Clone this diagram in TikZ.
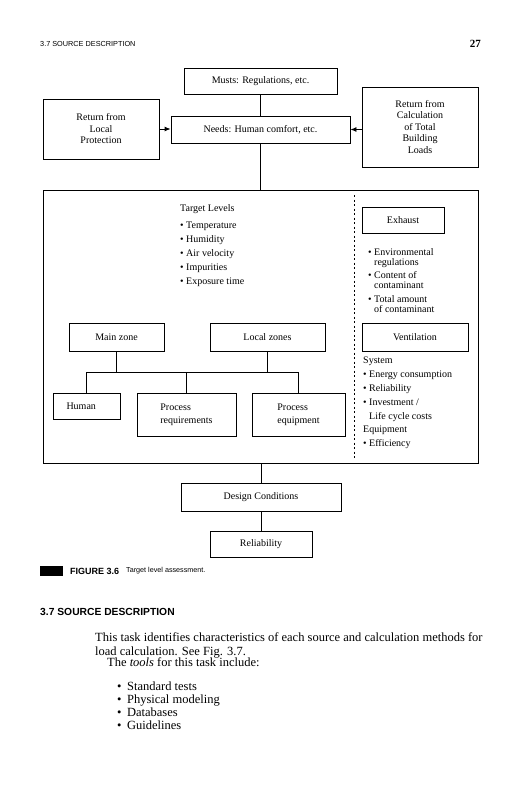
\documentclass[tikz,border=0pt]{standalone}
\usepackage{fontspec}
\setmainfont{Liberation Serif}
\setsansfont{Liberation Sans}
\usetikzlibrary{arrows.meta, positioning}

\begin{document}
\begin{tikzpicture}[
    x=1pt, y=-1pt,
    box/.style={draw, line width=0.9pt, align=center, inner sep=1pt,
                font=\fontsize{10}{11.5}\selectfont},
    lst/.style={anchor=north west, align=left, inner sep=0pt,
                font=\fontsize{10}{14}\selectfont},
    txt/.style={anchor=base west, inner sep=0pt, font=\fontsize{12.5}{15}\selectfont},
    link/.style={line width=0.9pt},
    >={Latex[length=6pt, width=5pt]}
  ]
  \useasboundingbox (0,0) rectangle (523,800);

  % running head
  \node[anchor=west, inner sep=0pt, font=\sffamily\fontsize{7.3}{8}\selectfont] (runhead) at (40,44) {3.7 SOURCE DESCRIPTION};
  \node[anchor=east, inner sep=0pt, font=\bfseries\fontsize{11}{12}\selectfont] (pageno) at (481,44) {27};

  % needs and what feeds it
  \node[box, minimum width=153, minimum height=26] (musts) at (260.5,81) {Musts: Regulations, etc.};
  \node[box, minimum width=179, minimum height=27] (needs) at (260.5,129.5) {Needs: Human comfort, etc.};
  \node[box, minimum width=116, minimum height=60] (local) at (101,129) {Return from\\Local\\Protection};
  \node[box, minimum width=116, minimum height=80] (calc) at (420,127) {Return from\\Calculation\\of Total\\Building\\Loads};
  \draw[link] (musts) -- (needs);
  \draw[link, ->] (local.east) -- (local.east -| needs.west);
  \draw[link, ->] (calc.west |- needs.east) -- (needs.east);

  % target level frame
  \node[draw, line width=0.9pt, inner sep=0pt, minimum width=435, minimum height=273] (frame) at (260.5,326.5) {};
  \draw[link] (needs) -- (frame);
  \draw[dashed, dash pattern=on 2pt off 2.5pt, line width=0.5pt] (354,195) -- (354,458);

  \node[lst] (levels) at (180,204.5) {Target Levels\\[3pt]
    \textbullet\ Temperature\\ \textbullet\ Humidity\\ \textbullet\ Air velocity\\
    \textbullet\ Impurities\\ \textbullet\ Exposure time};

  \node[box, minimum width=82, minimum height=26] (exhaust) at (403,220) {Exhaust};
  \node[lst, font=\fontsize{10}{10}\selectfont] (exhlist) at (368,248) {\textbullet\ Environmental\\
    \phantom{\textbullet\ }regulations\\[3.5pt]
    \textbullet\ Content of\\ \phantom{\textbullet\ }contaminant\\[3.5pt]
    \textbullet\ Total amount\\ \phantom{\textbullet\ }of contaminant};

  \node[box, minimum width=95, minimum height=28] (mainz) at (116.5,337) {Main zone};
  \node[box, minimum width=115, minimum height=28] (localz) at (267.5,337) {Local zones};
  \node[box, minimum width=106, minimum height=28] (vent) at (415,337) {Ventilation};
  \node[lst, font=\fontsize{10}{13.8}\selectfont] (ventlist) at (363,357) {System\\
    \textbullet\ Energy consumption\\ \textbullet\ Reliability\\
    \textbullet\ Investment /\\ \phantom{\textbullet\ }Life cycle costs\\
    Equipment\\ \textbullet\ Efficiency};

  \node[box, align=left, text width=40, inner xsep=13.5, minimum height=26] (human) at (86.5,406) {Human};
  \node[box, align=left, font=\fontsize{10}{13}\selectfont, minimum width=99, minimum height=43] (procreq) at (186.5,414.5) {Process\\requirements};
  \node[box, align=left, font=\fontsize{10}{13}\selectfont, minimum width=93, minimum height=43] (proceq) at (298.5,414.5) {Process\\equipment};

  \coordinate (bus) at (0,372);
  \draw[link] (mainz) -- (mainz |- bus);
  \draw[link] (localz) -- (localz |- bus);
  \draw[link] (human) -- (human |- bus) -- (proceq |- bus) -- (proceq);
  \draw[link] (procreq) -- (procreq |- bus);

  % design conditions
  \node[box, minimum width=160, minimum height=28] (design) at (261,497) {Design Conditions};
  \node[box, minimum width=102, minimum height=26] (reliab) at (261,544) {Reliability};
  \draw[link] (frame.south -| design) -- (design);
  \draw[link] (design) -- (reliab);

  % caption
  \node[fill=black, inner sep=0pt, minimum width=23, minimum height=10] (capmark) at (51.5,571) {};
  \node[anchor=west, inner sep=0pt, font=\sffamily\bfseries\fontsize{9}{10}\selectfont] (caplabel) at (70,571) {FIGURE 3.6};
  \node[anchor=west, inner sep=0pt, font=\sffamily\fontsize{7.2}{8}\selectfont] (captext) at (126,571) {Target level assessment.};

  % section text
  \node[anchor=west, inner sep=0pt, font=\sffamily\bfseries\fontsize{10.3}{12}\selectfont] (sechead) at (40,612) {3.7 SOURCE DESCRIPTION};
  \node[txt] (line1) at (95,641) {This task identifies characteristics of each source and calculation methods for};
  \node[txt] (line2) at (95,655) {load calculation. See Fig. 3.7.};
  \node[txt] (line3) at (107,666.5) {The \textit{tools} for this task include:};
  \node[lst, font=\fontsize{12.5}{13}\selectfont] (tools) at (117,681.7) {\textbullet\hspace{5.5pt}Standard tests\\
    \textbullet\hspace{5.5pt}Physical modeling\\ \textbullet\hspace{5.5pt}Databases\\
    \textbullet\hspace{5.5pt}Guidelines};
\end{tikzpicture}
\end{document}
